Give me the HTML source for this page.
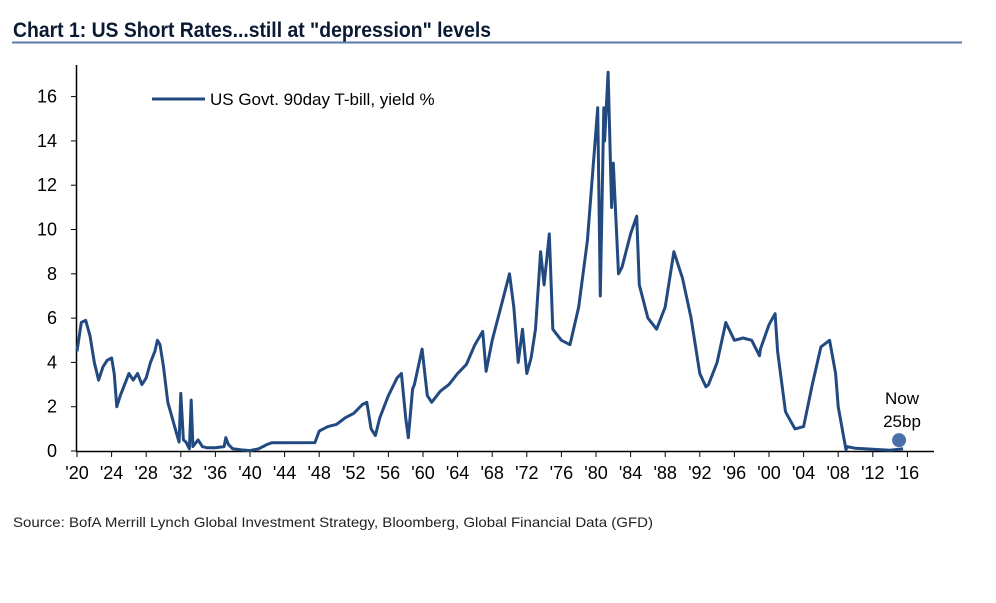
<!DOCTYPE html>
<html><head><meta charset="utf-8"><style>
body{margin:0;background:#fff;width:996px;height:603px;overflow:hidden;font-family:"Liberation Sans",Arial,sans-serif}
svg{position:absolute;left:0;top:0}
</style></head><body>
<svg width="996" height="603">
<text x="13" y="37" font-family="'Liberation Sans Narrow','Liberation Sans',sans-serif" font-weight="bold" font-size="21" fill="#0a1a33" textLength="478" lengthAdjust="spacingAndGlyphs">Chart 1: US Short Rates...still at "depression" levels</text>
<line x1="12" y1="42.5" x2="962" y2="42.5" stroke="#5b79ad" stroke-width="2"/>
<g id="axes"></g>
<path id="series" fill="none" stroke="#234a80" stroke-width="3" stroke-linejoin="round"/>
<line x1="152" y1="99" x2="205" y2="99" stroke="#234a80" stroke-width="3"/>
<text x="210" y="105" font-size="17" fill="#000">US Govt. 90day T-bill, yield %</text>
<circle id="nowdot" r="7" fill="#4a70a8"/>
<text x="902" y="404" font-size="17" text-anchor="middle">Now</text>
<text x="902" y="427" font-size="17" text-anchor="middle">25bp</text>
<text x="13" y="527" font-size="14" fill="#222" textLength="640" lengthAdjust="spacingAndGlyphs">Source:  BofA Merrill Lynch Global Investment Strategy, Bloomberg, Global Financial Data (GFD)</text>
</svg>
<script>
const years=[1920,1920.5,1921,1921.5,1922,1922.5,1923,1923.5,1924,1924.3,1924.6,1925,1925.5,1926,1926.5,1927,1927.5,1928,1928.5,1929,1929.3,1929.6,1930,1930.5,1931,1931.5,1931.8,1932,1932.3,1932.6,1933,1933.2,1933.4,1934,1934.5,1935,1936,1937,1937.2,1937.5,1938,1939,1940,1941,1942,1942.5,1947.5,1948,1949,1950,1951,1952,1953,1953.5,1954,1954.5,1955,1956,1957,1957.5,1958,1958.3,1958.8,1959,1959.9,1960.5,1961,1962,1963,1964,1965,1966,1966.9,1967.3,1968,1969,1970,1970.5,1971,1971.5,1972,1972.5,1973,1973.6,1974,1974.6,1975,1976,1977,1978,1979,1980.2,1980.5,1980.9,1981,1981.4,1981.8,1982,1982.6,1983,1984,1984.7,1985,1986,1987,1988,1989,1990,1991,1992,1992.7,1993,1994,1995,1996,1997,1998,1998.9,1999,2000,2000.7,2001,2001.9,2002,2003,2004,2005,2006,2007,2007.7,2008,2008.9,2009,2010,2012,2014,2015.5];
const yields=[4.5,5.8,5.9,5.2,4.0,3.2,3.8,4.1,4.2,3.5,2.0,2.5,3.0,3.5,3.2,3.5,3.0,3.3,4.0,4.5,5.0,4.8,3.8,2.2,1.5,0.8,0.4,2.6,0.5,0.4,0.1,2.3,0.2,0.5,0.2,0.15,0.15,0.2,0.6,0.3,0.1,0.05,0.02,0.1,0.3,0.37,0.38,0.9,1.1,1.2,1.5,1.7,2.1,2.2,1.0,0.7,1.5,2.5,3.3,3.5,1.5,0.6,2.8,3.0,4.6,2.5,2.2,2.7,3.0,3.5,3.9,4.8,5.4,3.6,5.0,6.5,8.0,6.5,4.0,5.5,3.5,4.2,5.5,9.0,7.5,9.8,5.5,5.0,4.8,6.5,9.5,15.5,7.0,15.5,14.0,17.1,11.0,13.0,8.0,8.3,9.8,10.6,7.5,6.0,5.5,6.5,9.0,7.8,6.0,3.5,2.9,3.0,4.0,5.8,5.0,5.1,5.0,4.3,4.6,5.7,6.2,4.5,1.8,1.7,1.0,1.1,3.0,4.7,5.0,3.5,2.0,0.05,0.2,0.12,0.08,0.03,0.1];
const yTicks=[0,2,4,6,8,10,12,14,16];
const xTickYears=[1920,1924,1928,1932,1936,1940,1944,1948,1952,1956,1960,1964,1968,1972,1976,1980,1984,1988,1992,1996,2000,2004,2008,2012,2016];
const xTickLabels=["'20","'24","'28","'32","'36","'40","'44","'48","'52","'56","'60","'64","'68","'72","'76","'80","'84","'88","'92","'96","'00","'04","'08","'12","'16"];
const nowYear=2015.5, nowValue=0.4;
const X=y=>77+(y-1920)*8.65, Y=v=>451-v*22.15;
const NS='http://www.w3.org/2000/svg', ax=document.getElementById('axes');
function mk(t,a){const e=document.createElementNS(NS,t);for(const k in a)e.setAttribute(k,a[k]);ax.appendChild(e);return e;}
let e=mk('line',{x1:76.5,y1:65,x2:76.5,y2:451,stroke:'#000','stroke-width':1.5});


e=mk('line',{x1:76,y1:451.5,x2:934,y2:451.5,stroke:'#000','stroke-width':1.5});


yTicks.forEach(v=>{mk('line',{x1:71,x2:77,y1:Y(v),y2:Y(v),stroke:'#000'});
 const t=mk('text',{x:57,y:Y(v)+6,'font-size':18,'text-anchor':'end'});t.textContent=v;
 
 });
xTickYears.forEach((yr,i)=>{mk('line',{x1:X(yr),x2:X(yr),y1:451,y2:457,stroke:'#000'});
 const t=mk('text',{x:X(yr),y:479,'font-size':18,'text-anchor':'middle'});t.textContent=xTickLabels[i];
 
 });
document.getElementById('series').setAttribute('d',years.map((yr,i)=>(i?'L':'M')+X(yr).toFixed(1)+','+Y(yields[i]).toFixed(1)).join(''));
const d=document.getElementById('nowdot');d.setAttribute('cx',X(nowYear)-4);d.setAttribute('cy',Y(nowValue)-2);
</script>
</body></html>
